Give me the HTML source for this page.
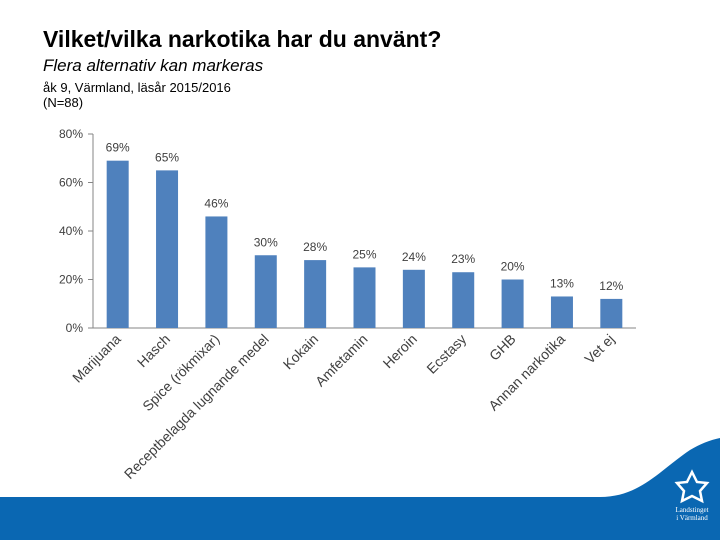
<!DOCTYPE html>
<html><head><meta charset="utf-8"><style>
body{margin:0;width:720px;height:540px;overflow:hidden;background:#fff;font-family:"Liberation Sans",sans-serif;position:relative}
.t{position:absolute;margin:0}
</style></head><body>
<h1 class="t" style="left:43px;top:26px;font-size:23px;font-weight:bold;color:#000">Vilket/vilka narkotika har du använt?</h1>
<div class="t" style="left:43px;top:56px;font-size:17px;font-style:italic;color:#000">Flera alternativ kan markeras</div>
<div class="t" style="left:43px;top:80px;font-size:13px;line-height:15px;color:#000">åk 9, Värmland, läsår 2015/2016<br>(N=88)</div>
<svg id="chart" width="720" height="540" style="position:absolute;left:0;top:0" font-family="Liberation Sans, sans-serif"></svg>
<svg width="720" height="540" style="position:absolute;left:0;top:0">
<path d="M0,497 L600,497 C640,497 660,470 690,450 C700,444 710,440 720,438 L720,540 L0,540 Z" fill="#0a67b2"/>
<g transform="translate(692,488)" fill="none" stroke="#fff" stroke-width="2.5">
<path d="M0,-16 L5,-6 L15,-5 L8,3 L10,13 L0,8 L-10,13 L-8,3 L-15,-5 L-5,-6 Z"/>
</g>
<text x="692" y="512" fill="#fff" font-size="7" text-anchor="middle" font-family="Liberation Serif, serif">Landstinget</text>
<text x="692" y="520" fill="#fff" font-size="7" text-anchor="middle" font-family="Liberation Serif, serif">i Värmland</text>
</svg>
<script>
const categories=["Marijuana","Hasch","Spice (rökmixar)","Receptbelagda lugnande medel","Kokain","Amfetamin","Heroin","Ecstasy","GHB","Annan narkotika","Vet ej"];
const values=[69,65,46,30,28,25,24,23,20,13,12];
const ticks=[0,20,40,60,80];
const svg=document.getElementById('chart');
const NS='http://www.w3.org/2000/svg';
const x0=93,x1=636,yBase=328,yTop=134,maxV=80;
const y=v=>yBase-(v/maxV)*(yBase-yTop);
const step=(x1-x0)/categories.length;
const xc=i=>x0+step*(i+0.5);
function mk(t,a){const e=document.createElementNS(NS,t);for(const k in a)e.setAttribute(k,a[k]);svg.appendChild(e);return e;}
ticks.forEach(t=>{
 const e=mk('text',{x:83,y:y(t)+4,'text-anchor':'end','font-size':12,fill:'#404040'});
 e.textContent=t+'%';
 
 
 mk('line',{x1:x0-5,x2:x0,y1:y(t),y2:y(t),stroke:'#868686'});
});
const ax=mk('line',{x1:x0,x2:x0,y1:yTop,y2:yBase,stroke:'#868686'});


const bx=mk('line',{x1:x0,x2:x1,y1:yBase,y2:yBase,stroke:'#868686'});


categories.forEach((c,i)=>{
 const bw=22,v=values[i];
 const r=mk('rect',{x:xc(i)-bw/2,y:y(v),width:bw,height:yBase-y(v),fill:'#4f81bd'});
 
 
 const l=mk('text',{x:xc(i),y:y(v)-9,'text-anchor':'middle','font-size':12,fill:'#404040'});
 l.textContent=v+'%';
 
 
 const cx=xc(i)+4,cy=yBase+12;
 const t=mk('text',{x:cx,y:cy,'text-anchor':'end','font-size':14,fill:'#404040',transform:`rotate(-45 ${cx} ${cy})`});
 t.textContent=c;
 
 
});
</script>
</body></html>
